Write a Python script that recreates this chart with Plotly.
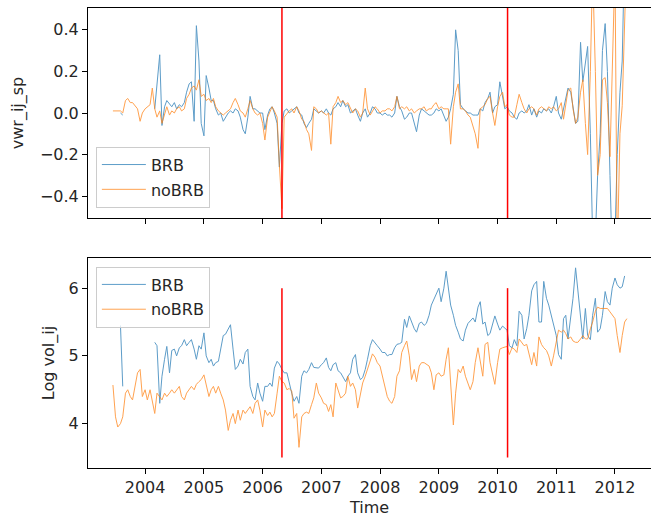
import pandas as pd
import plotly.graph_objects as go

N = None
# semi-monthly observation dates
dates = pd.date_range("2003-06-15", periods=211, freq="SMS")

brb_wvr = [N, N, N, 0.0, -0.01] + [N] * 12 + [
    0.02, 0.15, 0.28, -0.06, 0.03, 0.06, 0.04, 0.03, 0.05,
    0.02, 0.04, 0.03, 0.05, 0.1, 0.14, 0.15, -0.04, 0.42, 0.25,
    -0.05, -0.11, 0.18, 0.12, 0.06, 0.06, 0.02, -0.01, 0.0, -0.04,
    -0.02, 0.0, 0.01, 0.0, 0.02, 0.01,
    -0.02, -0.08, -0.1, -0.02, 0.08, 0.02, 0.02, 0.01, 0.0, 0.0,
    -0.08, -0.01, 0.02, 0.03, 0.0, -0.05, -0.26, -0.05, 0.01, 0.02,
    0.0, 0.01, 0.02, 0.03, 0.0, -0.01, -0.05, -0.07, -0.05, -0.03,
    0.02, 0.01, 0.0, 0.01, 0.0, 0.02, 0.0, -0.01, 0.02, 0.03,
    0.05, 0.03, 0.06, 0.03, 0.04, 0.0, 0.01, 0.02, -0.01, -0.04,
    0.0, 0.02, -0.02, 0.0, 0.03, 0.02, 0.0, 0.0, -0.01, 0.0,
    -0.01, -0.01, -0.02, 0.0, 0.08, 0.03, 0.01, -0.03, -0.02, 0.0,
    0.0, -0.05, -0.09, -0.01, 0.02, 0.01, 0.0, -0.01, -0.01, 0.0,
    0.02, 0.01, 0.02, -0.01, -0.04, -0.02, 0.02, 0.09, 0.40, 0.3,
    0.04, 0.02, 0.01, 0.0, 0.0, -0.01, -0.01, -0.01, 0.02, 0.01,
    0.05, 0.07, 0.10, 0.0, 0.03, 0.04, 0.15, 0.08, 0.02, 0.03,
    0.01, 0.0, -0.02, -0.03, 0.0, 0.01, 0.0,
    0.01, 0.04, -0.01, 0.02, -0.02, 0.01, 0.0, 0.02, 0.01, 0.02,
    0.0, 0.03, 0.08, 0.0, -0.03, 0.02, 0.06, 0.12, 0.1, 0.02,
    -0.05, -0.04, 0.34, 0.15, 0.25, 0.32, -0.1, -0.6, -0.6, -0.3,
    -0.1, 0.3, 0.43, 0.2, -0.3, -0.7, -0.6, -0.2, 0.1, 0.25,
    0.8, N,
]

nobrb_wvr = [
    0.01, 0.01, 0.01, 0.01, 0.0, 0.06, 0.07, 0.05, 0.05, 0.03, 0.02,
    -0.04, 0.0, 0.02, 0.03, 0.04, 0.12, 0.02, -0.02, 0.01, -0.05,
    0.0, 0.03, -0.01,
    0.01, 0.0, 0.02, 0.03, 0.01, 0.02, 0.07, 0.09, 0.12, 0.13,
    0.11, 0.16, 0.08, 0.09, 0.06, 0.07, 0.05, 0.07, 0.03, 0.01,
    0.0, -0.01, 0.0, 0.01, 0.02, 0.05, 0.07, 0.04,
    0.01, 0.0, -0.02, 0.02, 0.06, 0.02, 0.0, -0.01, 0.0, -0.05,
    -0.13, -0.02, 0.01, 0.03, 0.01, -0.02, -0.25, -0.46, -0.02, 0.0,
    0.01, 0.02, 0.0, 0.03, 0.01, -0.03, -0.04, -0.08, -0.1, -0.18,
    0.03, 0.02, 0.0, 0.01, 0.0, -0.01, 0.0, -0.15, 0.03, 0.05,
    0.08, 0.05, 0.06, 0.04, 0.05, 0.02, 0.0, 0.02, 0.01, -0.02,
    0.0, 0.12, 0.02, -0.01, 0.01, 0.03, 0.02, 0.0, 0.01, 0.01,
    0.02, 0.02, 0.01, 0.03, 0.08, 0.02, 0.03, 0.02, 0.03, 0.01,
    0.02, 0.0, 0.01, 0.02, 0.02, 0.03, 0.01, 0.02, 0.02, 0.04,
    0.05, 0.02, 0.03, 0.02, 0.02, 0.02, -0.15, 0.03, 0.1, 0.14,
    0.02, 0.02, 0.01, -0.01, -0.02, -0.06, -0.1, -0.17, 0.02, 0.03,
    0.04, 0.07, 0.08, 0.0, -0.06, 0.03, 0.08, 0.10, 0.03, 0.04,
    -0.01, -0.02, -0.02, 0.04, 0.09, 0.05, 0.02,
    0.0, 0.02, 0.03, 0.02, -0.01, 0.02, 0.03, 0.02, 0.01, 0.03,
    0.02, 0.03, 0.01, 0.02, 0.05, -0.03, 0.05, 0.11, 0.12, 0.02,
    -0.05, -0.02, 0.1, 0.16, -0.05, -0.2, 0.2, 0.7, 0.2, -0.3,
    -0.2, 0.16, 0.17, 0.05, -0.21, 0.2, 0.7, -0.7, -0.1, 0.035,
    0.5, 0.8,
]

brb_logvol = [N, N, N, 5.45, 4.55] + [N] * 12 + [
    5.2, 5.15, 4.3, 4.7, 4.95, 5.14, 4.75, 5.08, 5.1, 5.0,
    5.12, 5.15, 5.24, 5.15, 5.2, 5.24, 5.1, 4.95, 5.15, 5.1,
    5.34, 5.0, 4.9, 4.95, 4.85, 4.9, 4.92, 5.1, 5.3, 5.32,
    5.4, 5.46, 5.1, 4.8, 4.85,
    4.95, 4.88, 5.05, 5.1, 4.55, 4.4, 4.35, 4.6, 4.45, 4.33,
    4.55, 4.55, 4.6, 4.55, 4.82, 4.92, 4.88, 4.8, 4.75, 4.75,
    4.6, 4.45, 4.33, 4.4, 4.3, 4.7, 4.78, 4.75, 4.8, 4.9,
    4.83, 4.82, 4.82, 4.87, 4.9, 4.97, 4.83, 4.78, 4.87, 4.9,
    4.78, 4.75, 4.7, 4.62, 4.7, 4.75, 4.95, 5.02, 4.75, 4.65,
    4.68, 4.8, 4.95, 5.15, 5.24, 5.2, 5.15, 5.1, 5.05, 5.05,
    5.0, 5.02, 5.02, 5.12, 5.17, 5.18, 5.2, 5.54, 5.42, 5.59,
    5.5, 5.4, 5.35, 5.48, 5.5, 5.45, 5.48, 5.6, 5.75, 5.83,
    5.9, 6.0, 5.8, 6.0, 6.25, 5.95, 5.75, 5.6, 5.45, 5.35,
    5.25, 5.22, 5.38, 5.48, 5.52, 5.56, 5.5, 5.72, 5.8, 5.47,
    5.5, 5.3, 5.33, 5.45, 5.59, 5.47, 5.38, 5.44, 5.41, 5.38,
    5.15, 5.12, 5.24, 5.15, 5.66, 5.6, 5.25,
    5.4, 5.6, 5.96, 6.05, 6.1, 5.5, 5.5, 6.1, 5.85, 5.75,
    5.6, 5.45, 5.3, 5.02, 4.95, 5.55, 5.6, 5.25, 5.55, 5.85,
    6.3, 5.95, 5.5, 5.25, 5.7, 5.3, 5.24, 5.6, 5.85, 5.35,
    5.4, 5.6, 5.95, 5.8, 5.75, 6.0, 6.15, 6.05, 6.0, 6.02,
    6.18, N,
]

nobrb_logvol = [
    4.57, 4.1, 3.95, 4.0, 4.1, 4.45, 4.5, 4.4, 4.35, 4.6,
    4.75, 4.8, 4.4, 4.5, 4.35, 4.5, 4.3, 4.15, 4.45, 4.4,
    4.35, 4.45, 4.4, 4.45, 4.5, 4.45, 4.5, 4.55, 4.4, 4.35,
    4.45, 4.5, 4.55, 4.5, 4.58, 4.62, 4.65, 4.72, 4.55, 4.4,
    4.5, 4.55, 4.45, 4.55, 4.45, 4.35, 4.2, 3.9, 4.05, 4.15,
    4.0, 4.2, 4.05, 4.2, 4.15, 4.2, 4.25, 4.15, 4.3, 4.35,
    4.2, 3.95, 4.2, 4.12, 4.17, 4.1, 4.15, 4.45, 4.7, 4.62,
    4.6, 4.5, 4.52, 4.48, 4.08, 4.15, 3.65, 4.1, 4.15, 4.17,
    4.15, 4.28, 4.38, 4.6, 4.45, 4.38, 4.3, 4.28, 4.18, 4.28,
    4.1, 4.6, 4.5, 4.38, 4.4, 4.45, 4.7, 4.55, 4.6, 4.5,
    4.23, 4.45, 4.6, 4.7, 4.8, 4.95, 5.03, 4.98, 4.9, 4.85,
    4.7, 4.5,
    4.4, 4.33, 4.3, 4.4, 4.7, 4.78, 5.05, 5.15, 5.22, 5.0,
    4.65, 4.8, 4.62, 4.85, 4.9, 4.9, 4.88, 4.85, 4.75, 4.5,
    4.72, 4.75, 4.7, 4.72, 4.95, 5.12, 4.6, 3.98, 4.45, 4.8,
    4.75, 4.85, 4.7, 4.6, 4.5, 4.62, 4.9, 5.12, 4.95, 4.7,
    5.17, 5.2, 4.9, 4.75, 4.58, 4.9, 5.1, 5.12, 5.13, 5.14,
    5.02, 5.12, 5.1, 5.05, 5.25, 5.2, 5.15,
    5.17, 5.02, 4.87, 5.05, 4.85, 5.28, 5.17, 5.12, 5.08, 5.0,
    4.85, 5.0, 5.2, 5.38, 5.35, 5.38, 5.33, 5.25, 5.28, 5.22,
    5.2, 5.2, 5.25, 5.3, 5.25, 5.25, 5.4, 5.5, 5.66, 5.72,
    5.7, 5.7, 5.7, 5.7, 5.65, 5.6, 5.55, 5.3, 5.05, 5.3,
    5.5, 5.55,
]

event_dates = ["2006-05-01", "2010-03-04"]
vline_span_bottom = [3.5, 6.0]

BLUE = "#1f77b4"
ORANGE = "#ff7f0e"
FONT = dict(family="DejaVu Sans", size=16, color="#262626")

fig = go.Figure()

line_w = 1.0
op = 0.72

series = [
    (brb_wvr, "BRB", BLUE, "x", "y", "legend", "a"),
    (nobrb_wvr, "noBRB", ORANGE, "x", "y", "legend", "b"),
    (brb_logvol, "BRB", BLUE, "x2", "y2", "legend2", "c"),
    (nobrb_logvol, "noBRB", ORANGE, "x2", "y2", "legend2", "d"),
]
for ys, name, col, xa, ya, lg, grp in series:
    fig.add_trace(go.Scatter(x=dates, y=ys, mode="lines", name=name,
                             line=dict(color=col, width=line_w), opacity=op,
                             xaxis=xa, yaxis=ya, legend=lg, legendgroup=grp))

for d in event_dates:
    fig.add_shape(type="line", x0=d, x1=d, y0=0, y1=1, xref="x", yref="y domain",
                  line=dict(color="red", width=1.5))
    fig.add_trace(go.Scatter(x=[d, d], y=vline_span_bottom, mode="lines",
                             line=dict(color="red", width=1.5), showlegend=False,
                             xaxis="x2", yaxis="y2", hoverinfo="skip"))

xrange = ["2003-01-11", "2012-08-12"]
axis_common = dict(showline=True, linecolor="black", linewidth=1, ticks="outside",
                   ticklen=5, tickcolor="black", tickwidth=1, showgrid=False,
                   zeroline=False, tickfont=FONT)

legend_common = dict(bgcolor="rgba(255,255,255,0.8)", bordercolor="#cccccc", borderwidth=1,
                     font=FONT, xanchor="left", traceorder="grouped", tracegroupgap=1,
                     itemwidth=44, entrywidth=66, entrywidthmode="pixels")

fig.update_layout(
    width=651, height=517,
    margin=dict(l=88, r=0, t=8, b=49),
    paper_bgcolor="white", plot_bgcolor="white",
    font=FONT,
    xaxis=dict(domain=[0, 1], anchor="y", range=xrange, type="date", mirror=True,
               showticklabels=False, dtick="M12", tick0="2004-01-01", **axis_common),
    yaxis=dict(domain=[0.5435, 1], anchor="x", range=[-0.505, 0.505],
               tickvals=[-0.4, -0.2, 0.0, 0.2, 0.4],
               ticktext=["\u22120.4", "\u22120.2", "0.0", "0.2", "0.4"],
               title=dict(text="vwr_ij_sp", font=FONT, standoff=12), **axis_common),
    xaxis2=dict(domain=[0, 1], anchor="y2", range=xrange, type="date", mirror=True,
                dtick="M12", tick0="2004-01-01", tickformat="%Y",
                title=dict(text="Time", font=FONT, standoff=7), **axis_common),
    yaxis2=dict(domain=[0, 0.4565], anchor="x2", range=[3.345, 6.445],
                tickvals=[4, 5, 6],
                title=dict(text="Log vol_ij", font=FONT, standoff=10), **axis_common),
    legend=dict(x=0.014, y=0.566, yanchor="bottom", **legend_common),
    legend2=dict(x=0.014, y=0.438, yanchor="top", **legend_common),
    showlegend=True,
)

fig.write_html("out.html")
